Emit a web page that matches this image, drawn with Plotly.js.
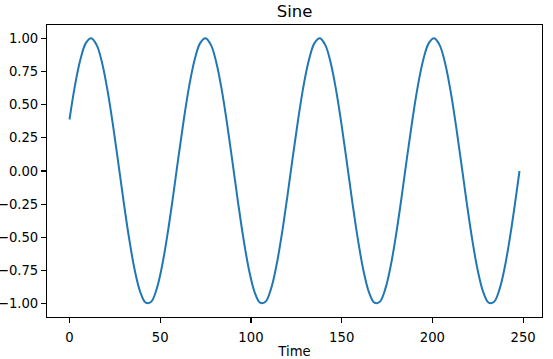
<!DOCTYPE html>
<html>
<head>
<meta charset="utf-8">
<script src="https://cdn.plot.ly/plotly-3.0.1.min.js"></script>
<style>
  html, body { margin: 0; padding: 0; background: #fff; }
  #plot { width: 553px; height: 359px; }
</style>
</head>
<body>
<div id="plot"></div>
<script>
// time samples (every 3 steps, plus the last point)
const time = [
  0, 3, 6, 9, 12, 15, 18, 21, 24, 27, 30, 33, 36, 39, 42, 45, 48, 51, 54, 57, 60,
  63, 66, 69, 72, 75, 78, 81, 84, 87, 90, 93, 96, 99, 102, 105, 108, 111, 114, 117, 120, 123,
  126, 129, 132, 135, 138, 141, 144, 147, 150, 153, 156, 159, 162, 165, 168, 171, 174, 177, 180, 183, 186,
  189, 192, 195, 198, 201, 204, 207, 210, 213, 216, 219, 222, 225, 228, 231, 234, 237, 240, 243, 246,
  248
];

// sine values
const sine = [
  0.388, 0.643, 0.840, 0.963, 1.000, 0.948, 0.812, 0.604, 0.342, 0.050, -0.247, -0.521, -0.750, -0.912, -0.992, -0.985, -0.890, -0.716, -0.478, -0.198, 0.100,
  0.388, 0.643, 0.840, 0.963, 1.000, 0.948, 0.812, 0.604, 0.342, 0.050, -0.247, -0.521, -0.750, -0.912, -0.992, -0.985, -0.890, -0.716, -0.478, -0.198, 0.100,
  0.388, 0.643, 0.840, 0.963, 1.000, 0.948, 0.812, 0.604, 0.342, 0.050, -0.247, -0.521, -0.750, -0.912, -0.992, -0.985, -0.890, -0.716, -0.478, -0.198, 0.100,
  0.388, 0.643, 0.840, 0.963, 1.000, 0.948, 0.812, 0.604, 0.342, 0.050, -0.247, -0.521, -0.750, -0.912, -0.992, -0.985, -0.890, -0.716, -0.478, -0.198,
  0.000
];

const xTicks = [0, 50, 100, 150, 200, 250];
const yTicks = [-1.00, -0.75, -0.50, -0.25, 0.00, 0.25, 0.50, 0.75, 1.00];

const font = { family: "DejaVu Sans", size: 13.2, color: "#000" };

const trace = {
  x: time,
  y: sine,
  mode: "lines",
  line: { color: "#1f77b4", width: 2, shape: "spline", smoothing: 1 },
  hoverinfo: "skip"
};

const axisBase = {
  showline: true,
  mirror: true,
  linecolor: "#000",
  linewidth: 1.1,
  ticks: "outside",
  ticklen: 5,
  tickwidth: 1.1,
  tickcolor: "#000",
  showgrid: false,
  zeroline: false,
  tickfont: font
};

const layout = {
  width: 553,
  height: 359,
  margin: { l: 47, r: 11, t: 25, b: 42 },
  paper_bgcolor: "#fff",
  plot_bgcolor: "#fff",
  showlegend: false,
  font: font,
  title: {
    text: "Sine",
    font: { family: "DejaVu Sans", size: 16.5, color: "#000" },
    x: 0.5, xref: "paper", xanchor: "center",
    y: 0.97, yref: "container", yanchor: "middle"
  },
  xaxis: Object.assign({}, axisBase, {
    range: [-12.4, 260.4],
    tickvals: xTicks,
    ticktext: xTicks.map(String),
    ticklabelstandoff: 3,
    title: { text: "Time", font: font, standoff: 5 }
  }),
  yaxis: Object.assign({}, axisBase, {
    range: [-1.0997, 1.0997],
    tickvals: yTicks,
    tickformat: ".2f"
  })
};

Plotly.newPlot("plot", [trace], layout, { displayModeBar: false, staticPlot: true });
</script>
</body>
</html>
